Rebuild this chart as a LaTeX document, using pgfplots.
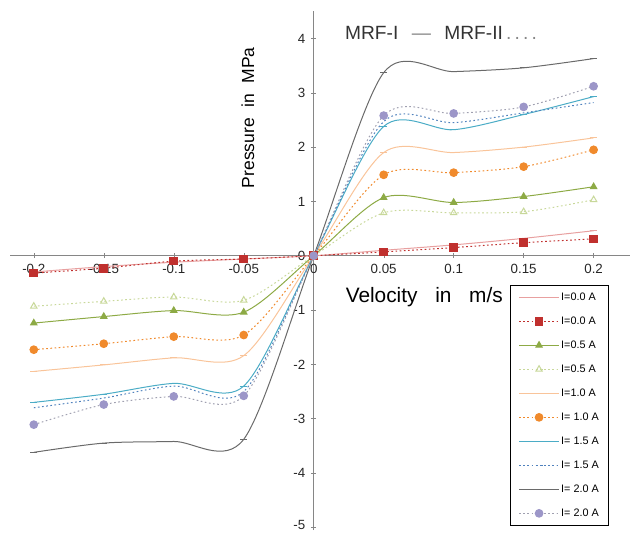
\documentclass[border=0pt]{standalone}
\usepackage{fontspec}
\setmainfont{Liberation Sans}
\usepackage{pgfplots}
\pgfplotsset{compat=1.18}
\definecolor{axisgray}{HTML}{868686}
\definecolor{cA}{HTML}{E8A0A0}
\definecolor{cB}{HTML}{C0302E}
\definecolor{cC}{HTML}{8DAA45}
\definecolor{cD}{HTML}{C8D89A}
\definecolor{cE}{HTML}{F9C49A}
\definecolor{cF}{HTML}{F08A2C}
\definecolor{cG}{HTML}{4BACC6}
\definecolor{cH}{HTML}{4F81BD}
\definecolor{cI}{HTML}{6A6A6A}
\definecolor{cJ}{HTML}{A0A0B0}
\definecolor{cJm}{HTML}{9C96C8}
\begin{document}
\begin{tikzpicture}
\path[use as bounding box] (-6pt,-1.2pt) rectangle (374.4pt,318pt);
\begin{axis}[
  at={(0,0)}, anchor=south west,
  scale only axis, width=372pt, height=311.2pt,
  xmin=-0.217, xmax=0.226, ymin=-5.05, ymax=4.5,
  axis lines=middle,
  axis line style={color=axisgray,-},
  clip=false,
  hide obscured x ticks=false, hide obscured y ticks=false,
  xtick={-0.2,-0.15,-0.1,-0.05,0,0.05,0.1,0.15,0.2},
  xticklabels={-0.2,-0.15,-0.1,-0.05,0,0.05,0.1,0.15,0.2},
  ytick={-5,-4,-3,-2,-1,0,1,2,3,4},
  yticklabels={{\raisebox{2.5pt}{-5}},-4,-3,-2,-1,0,1,2,3,4},
  tick style={color=axisgray}, major tick length=3pt,
  /pgf/number format/assume math mode=true,
  tick label style={font=\fontsize{8}{9}\selectfont, text=black!85},
  y tick label style={inner ysep=0.5pt},
  every axis x label/.style={at={(axis cs:0.079,-0.755)},anchor=center},
  every axis y label/.style={at={(axis cs:-0.047,2.54)},anchor=center,rotate=90},
  xlabel={\fontsize{12.5}{14}\selectfont Velocity\hspace{0.85em}in\hspace{0.85em}m/s},
  ylabel={\fontsize{10.5}{12}\selectfont Pressure\hspace{0.6em}in\hspace{0.6em}MPa},
  legend cell align=left,
  legend image code/.code={\draw[mark repeat=2,mark phase=2,#1] plot coordinates {(0pt,0pt) (12pt,0pt) (24pt,0pt)};},
  legend style={at={(0.806,0.472)}, anchor=north west, draw=black, line width=0.6pt, fill=white,
    font=\fontsize{6.5}{7}\selectfont, row sep=6.4pt, inner xsep=5pt, inner ysep=3pt,
    nodes={inner sep=1pt, text height=5pt, text depth=1pt}},
  every axis plot/.append style={line width=0.6pt, smooth, tension=0.5},
]
% I=0.0 MRF-I
\addplot[color=cA, mark=-, mark size=2pt] coordinates {(-0.2,-0.30) (-0.15,-0.20) (-0.1,-0.12) (-0.05,-0.06) (0,0) (0.05,0.10) (0.1,0.20) (0.15,0.32) (0.2,0.46)};
\addlegendentry{I=0.0 A}
% I=0.0 MRF-II
\addplot[color=cB, dash pattern=on 1pt off 1.5pt, mark=square*, mark size=2.3pt, mark options={solid,fill=cB}] coordinates {(-0.2,-0.32) (-0.15,-0.23) (-0.1,-0.10) (-0.05,-0.06) (0,0) (0.05,0.07) (0.1,0.15) (0.15,0.24) (0.2,0.31)};
\addlegendentry{I=0.0 A}
% I=0.5 MRF-I
\addplot[color=cC, mark=triangle*, mark size=2.2pt, mark options={solid,fill=cC}] coordinates {(-0.2,-1.24) (-0.15,-1.12) (-0.1,-1.01) (-0.05,-1.04) (0,0) (0.05,1.07) (0.1,0.98) (0.15,1.09) (0.2,1.27)};
\addlegendentry{I=0.5 A}
% I=0.5 MRF-II
\addplot[color=cD, dash pattern=on 1pt off 1.5pt, mark=triangle, mark size=2.2pt, mark options={solid}] coordinates {(-0.2,-0.93) (-0.15,-0.84) (-0.1,-0.76) (-0.05,-0.82) (0,0) (0.05,0.79) (0.1,0.79) (0.15,0.81) (0.2,1.03)};
\addlegendentry{I=0.5 A}
% I=1.0 MRF-I
\addplot[color=cE, mark=-, mark size=2pt] coordinates {(-0.2,-2.13) (-0.15,-2.01) (-0.1,-1.88) (-0.05,-1.84) (0,0) (0.05,1.90) (0.1,1.90) (0.15,2.00) (0.2,2.17)};
\addlegendentry{I=1.0 A}
% I=1.0 MRF-II
\addplot[color=cF, dash pattern=on 1pt off 1.5pt, mark=*, mark size=2.3pt, mark options={solid,fill=cF}] coordinates {(-0.2,-1.73) (-0.15,-1.62) (-0.1,-1.49) (-0.05,-1.46) (0,0) (0.05,1.49) (0.1,1.53) (0.15,1.64) (0.2,1.95)};
\addlegendentry{I= 1.0 A}
% I=1.5 MRF-I
\addplot[color=cG, mark=-, mark size=2pt] coordinates {(-0.2,-2.70) (-0.15,-2.55) (-0.1,-2.35) (-0.05,-2.40) (0,0) (0.05,2.38) (0.1,2.32) (0.15,2.60) (0.2,2.93)};
\addlegendentry{I= 1.5 A}
% I=1.5 MRF-II
\addplot[color=cH, dash pattern=on 1pt off 1.5pt] coordinates {(-0.2,-2.80) (-0.15,-2.62) (-0.1,-2.40) (-0.05,-2.50) (0,0) (0.05,2.47) (0.1,2.45) (0.15,2.63) (0.2,2.82)};
\addlegendentry{I= 1.5 A}
% I=2.0 MRF-I
\addplot[color=cI, mark=-, mark size=2pt] coordinates {(-0.2,-3.62) (-0.15,-3.45) (-0.1,-3.42) (-0.05,-3.38) (0,0) (0.05,3.37) (0.1,3.39) (0.15,3.46) (0.2,3.63)};
\addlegendentry{I= 2.0 A}
% I=2.0 MRF-II
\addplot[color=cJ, dash pattern=on 1pt off 1.5pt, mark=*, mark size=2.3pt, mark options={solid,fill=cJm,draw=cJm}] coordinates {(-0.2,-3.11) (-0.15,-2.74) (-0.1,-2.59) (-0.05,-2.58) (0,0) (0.05,2.58) (0.1,2.62) (0.15,2.74) (0.2,3.12)};
\addlegendentry{I= 2.0 A}
\node[font=\fontsize{11.5}{13}\selectfont, text=black!80] at (axis cs:0.091,4.11) {MRF-I\hspace{0.7em}\textcolor{axisgray}{---}\hspace{0.7em}MRF-II\,\textcolor{axisgray}{.\,.\,.\,.}};
\end{axis}
\end{tikzpicture}
\end{document}
